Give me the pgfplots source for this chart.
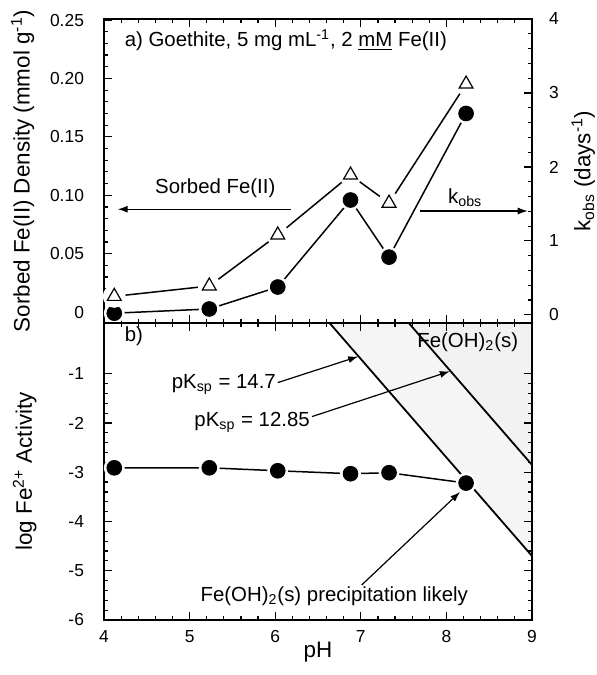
\documentclass[border=0pt]{standalone}
\usepackage{fontspec}
\setmainfont{Liberation Sans}
\usepackage{pgfplots}
\pgfplotsset{compat=1.18}
\usetikzlibrary{arrows.meta}

\newcommand\annot{\fontsize{10.2}{12}\selectfont}
\tikzset{lbl/.style={-{Latex[length=5pt,width=3.5pt]}, line width=0.6pt}}

\pgfplotsset{
  panel/.style={
    scale only axis, width=214pt, xmin=4, xmax=9,
    axis on top,
    axis line style={line width=0.9pt},
    tick style={line width=0.6pt, black},
    major tick length=4pt, minor tick length=2pt,
    tick align=inside,
    tick label style={font=\fontsize{8.7}{9}\selectfont},
    label style={font=\fontsize{11.2}{13}\selectfont},
    /pgf/number format/assume math mode=true,
    xtick={4,5,6,7,8,9}, minor x tick num=4, xtick pos=both,
    xticklabel style={yshift=-1.5pt},
  },
  line/.style={black, line width=0.75pt},
  halo/.style={only marks, mark=*, mark size=5pt, mark options={draw=white, fill=white}},
  dot/.style={only marks, mark=*, mark size=3.7pt, mark options={draw=black, fill=black}},
  tri/.style={only marks, mark=triangle, mark size=4pt, mark options={draw=black, fill=white, line width=0.6pt}},
}

\begin{document}
\begin{tikzpicture}
\path[use as bounding box] (0,0) rectangle (298pt,337.5pt);

% ---- panel a, left axis: sorbed Fe(II)
\begin{axis}[panel, at={(52pt,176pt)}, anchor=south west, height=152pt,
  ymin=-0.0094, ymax=0.2509,
  ytick={0,0.05,0.1,0.15,0.2,0.25},
  yticklabels={0,0.05,0.10,0.15,0.20,0.25},
  minor y tick num=4, ytick pos=left,
  yticklabel style={xshift=-6.5pt},
  xticklabels={},
  ylabel={Sorbed Fe(II) Density (mmol g\textsuperscript{-1})},
  ylabel style={at={(axis description cs:-0.19,0.5)}, anchor=center},
]
\addplot[line] coordinates {(4.12,-0.001) (5.23,0.0026) (6.03,0.0214) (6.88,0.0959) (7.33,0.047) (8.23,0.170)};
\addplot[halo] coordinates {(4.12,-0.001) (5.23,0.0026) (6.03,0.0214) (6.88,0.0959) (7.33,0.047) (8.23,0.170)};
\addplot[dot] coordinates {(4.12,-0.001) (5.23,0.0026) (6.03,0.0214) (6.88,0.0959) (7.33,0.047) (8.23,0.170)};

\node[anchor=west, font=\annot] at (axis cs:4.16,0.233) {a) Goethite, 5 mg mL\textsuperscript{-1}, 2 \underline{mM} Fe(II)};
\node[font=\annot] at (axis cs:5.30,0.106) {Sorbed Fe(II)};
\draw[lbl] (axis cs:6.18,0.088) -- (axis cs:4.16,0.088);
\node[font=\annot] at (axis cs:8.22,0.098) {k\textsubscript{obs}};
\draw[lbl] (axis cs:7.69,0.0865) -- (axis cs:8.95,0.0865);
\end{axis}

% ---- panel a, right axis: k_obs
\begin{axis}[panel, at={(52pt,176pt)}, anchor=south west, height=152pt,
  axis x line=none, axis y line*=right,
  ymin=-0.11, ymax=4,
  ytick={0,1,2,3,4}, minor y tick num=4,
  yticklabel style={xshift=5pt},
  ylabel={k\textsubscript{obs} (days\textsuperscript{-1})},
  ylabel style={at={(axis description cs:1.12,0.5)}, anchor=center, rotate=0},
]
\addplot[line] coordinates {(4.12,0.25) (5.23,0.39) (6.03,1.08) (6.88,1.89) (7.33,1.51) (8.23,3.12)};
\addplot[halo, mark size=5.5pt] coordinates {(4.12,0.25) (5.23,0.39) (6.03,1.08) (6.88,1.89) (7.33,1.51) (8.23,3.12)};
\addplot[tri] coordinates {(4.12,0.25) (5.23,0.39) (6.03,1.08) (6.88,1.89) (7.33,1.51) (8.23,3.12)};
\end{axis}

% ---- panel b: log Fe2+ activity
\begin{axis}[panel, at={(52pt,27.5pt)}, anchor=south west, height=148.5pt,
  ymin=-6, ymax=0.03,
  ytick={-6,-5,-4,-3,-2,-1}, minor y tick num=4, ytick pos=both, yticklabel pos=left,
  yticklabel style={xshift=-6.5pt},
  xlabel={pH},
  xlabel style={at={(axis description cs:0.5,-0.108)}, anchor=center},
  ylabel={log Fe\textsuperscript{2+} Activity},
  ylabel style={at={(axis description cs:-0.185,0.5)}, anchor=center},
]
\addplot[draw=none, fill=black!4] coordinates {(6.5,0.3) (9,-4.7) (9,0.3)};
\addplot[draw=none, fill=black!5] coordinates {(7.425,0.3) (9,-2.85) (9,0.3)};
\addplot[line] coordinates {(4.12,-2.91) (5.23,-2.91) (6.03,-2.97) (6.88,-3.03) (7.33,-3.01) (8.23,-3.22)};
\addplot[halo] coordinates {(4.12,-2.91) (5.23,-2.91) (6.03,-2.97) (6.88,-3.03) (7.33,-3.01) (8.23,-3.22)};
% solubility lines, pKsp = 14.7 and 12.85
\addplot[black, line width=0.9pt] coordinates {(6.5,0.3) (9,-4.7)};
\addplot[black, line width=0.9pt] coordinates {(7.425,0.3) (9,-2.85)};
\addplot[dot] coordinates {(4.12,-2.91) (5.23,-2.91) (6.03,-2.97) (6.88,-3.03) (7.33,-3.01) (8.23,-3.22)};

\node[anchor=west, font=\annot] at (axis cs:4.16,-0.24) {b)};
\node[anchor=east, font=\annot] at (axis cs:8.92,-0.35) {Fe(OH)\textsubscript{2}(s)};
\node[font=\annot] at (axis cs:5.40,-1.22) {pK\textsubscript{sp} = 14.7};
\draw[lbl] (axis cs:6.03,-1.18) -- (axis cs:6.97,-0.65);
\node[font=\annot] at (axis cs:5.73,-1.98) {pK\textsubscript{sp} = 12.85};
\draw[lbl] (axis cs:6.43,-1.87) -- (axis cs:8.04,-0.95);
\node[font=\annot] at (axis cs:6.69,-5.51) {Fe(OH)\textsubscript{2}(s) precipitation likely};
\draw[lbl] (axis cs:7.01,-5.29) -- (axis cs:8.16,-3.40);
\end{axis}
\end{tikzpicture}
\end{document}
